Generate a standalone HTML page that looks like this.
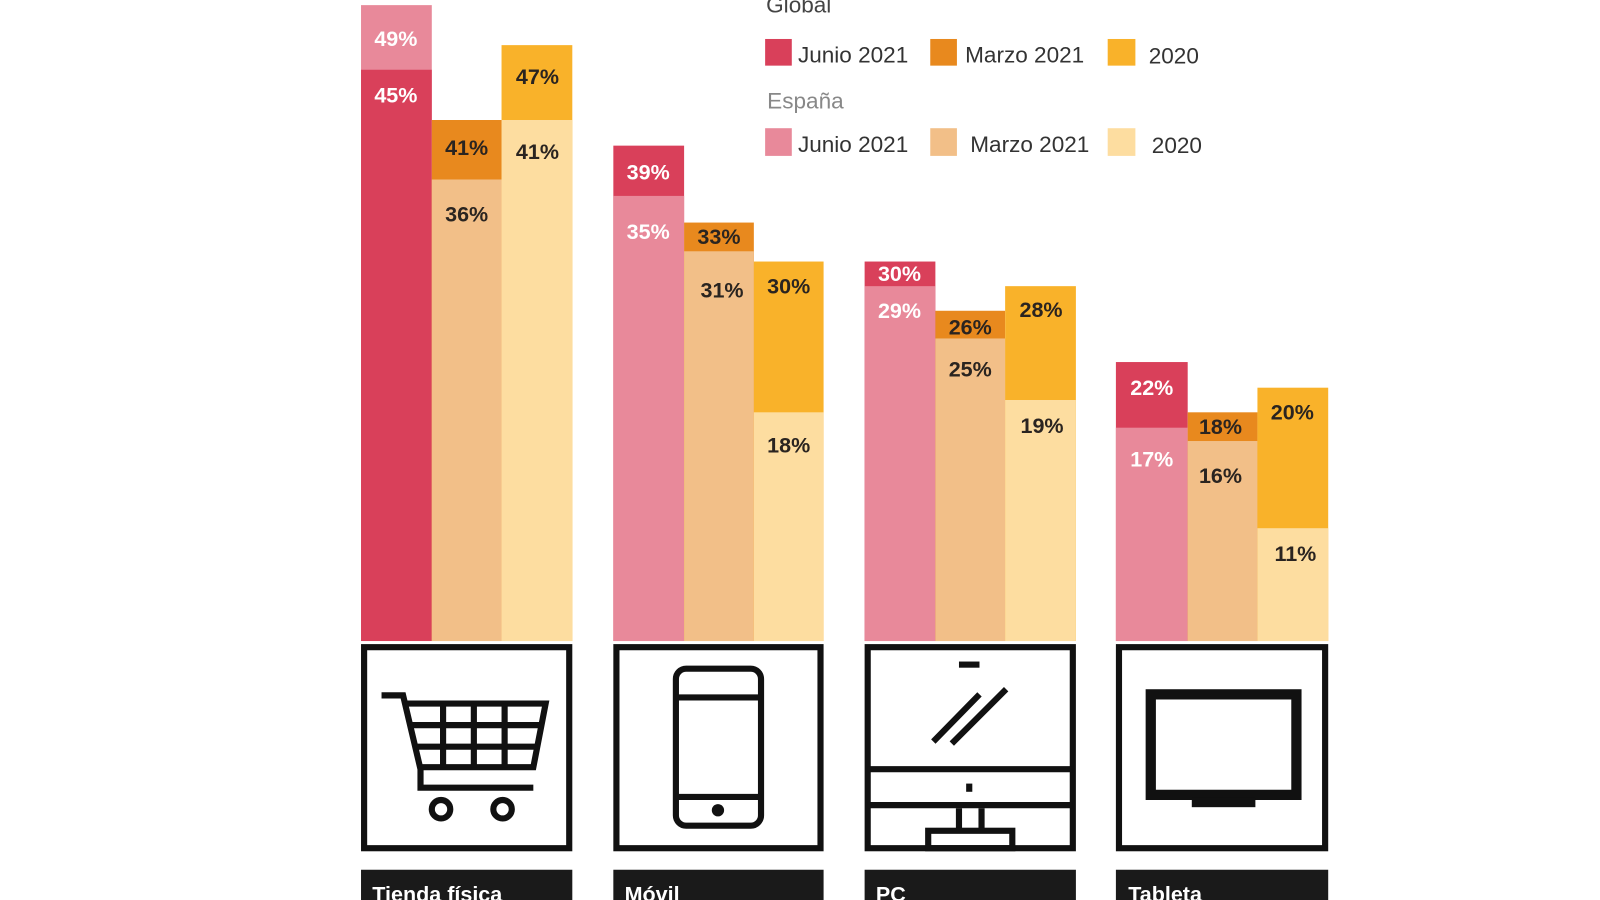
<!DOCTYPE html>
<html><head><meta charset="utf-8"><style>
html,body{margin:0;padding:0;background:#fff;overflow:hidden}
svg{display:block}
text{font-family:"Liberation Sans",sans-serif}
.w{fill:#fff;font-weight:bold;font-size:21px;text-anchor:middle}
.d{fill:#2a2420;font-weight:bold;font-size:21px;text-anchor:middle}
.lg{fill:#333;font-size:22px}
</style></head><body>
<svg width="1600" height="900" viewBox="0 0 1560 877.5" xmlns="http://www.w3.org/2000/svg">
<rect width="1560" height="877.5" fill="#fff"/>
<!-- Group 1 -->
<rect x="352" y="5" width="69" height="620" fill="#e8899a"/>
<rect x="352" y="68" width="69" height="557" fill="#d9405a"/>
<rect x="421" y="117" width="68" height="508" fill="#e8891e"/>
<rect x="421" y="175" width="68" height="450" fill="#f2bf88"/>
<rect x="489" y="44" width="69" height="581" fill="#f9b22a"/>
<rect x="489" y="117" width="69" height="508" fill="#fddda0"/>
<text class="w" x="386" y="45">49%</text><text class="w" x="386" y="100">45%</text>
<text class="d" x="455" y="151">41%</text><text class="d" x="455" y="216">36%</text>
<text class="d" x="524" y="82">47%</text><text class="d" x="524" y="155">41%</text>
<!-- Group 2 -->
<rect x="598" y="142" width="69" height="483" fill="#d9405a"/>
<rect x="598" y="191" width="69" height="434" fill="#e8899a"/>
<rect x="667" y="217" width="68" height="408" fill="#e8891e"/>
<rect x="667" y="245" width="68" height="380" fill="#f2bf88"/>
<rect x="735" y="255" width="68" height="370" fill="#f9b22a"/>
<rect x="735" y="402" width="68" height="223" fill="#fddda0"/>
<text class="w" x="632" y="175">39%</text><text class="w" x="632" y="233">35%</text>
<text class="d" x="701" y="238">33%</text><text class="d" x="704" y="290">31%</text>
<text class="d" x="769" y="286">30%</text><text class="d" x="769" y="441">18%</text>
<!-- Group 3 -->
<rect x="843" y="255" width="69" height="370" fill="#d9405a"/>
<rect x="843" y="279" width="69" height="346" fill="#e8899a"/>
<rect x="912" y="303" width="68" height="322" fill="#e8891e"/>
<rect x="912" y="330" width="68" height="295" fill="#f2bf88"/>
<rect x="980" y="279" width="69" height="346" fill="#f9b22a"/>
<rect x="980" y="390" width="69" height="235" fill="#fddda0"/>
<text class="w" x="877" y="274">30%</text><text class="w" x="877" y="310">29%</text>
<text class="d" x="946" y="326">26%</text><text class="d" x="946" y="367">25%</text>
<text class="d" x="1015" y="309">28%</text><text class="d" x="1016" y="422">19%</text>
<!-- Group 4 -->
<rect x="1088" y="353" width="70" height="272" fill="#d9405a"/>
<rect x="1088" y="417" width="70" height="208" fill="#e8899a"/>
<rect x="1158" y="402" width="68" height="223" fill="#e8891e"/>
<rect x="1158" y="430" width="68" height="195" fill="#f2bf88"/>
<rect x="1226" y="378" width="69" height="247" fill="#f9b22a"/>
<rect x="1226" y="515" width="69" height="110" fill="#fddda0"/>
<text class="w" x="1123" y="385">22%</text><text class="w" x="1123" y="455">17%</text>
<text class="d" x="1190" y="423">18%</text><text class="d" x="1190" y="471">16%</text>
<text class="d" x="1260" y="409">20%</text><text class="d" x="1263" y="547">11%</text>
<!-- Legend -->
<text class="lg" x="747" y="12" fill="#444" style="fill:#444">Global</text>
<rect x="746" y="38" width="26" height="26" fill="#d9405a"/><text class="lg" x="778" y="61">Junio 2021</text>
<rect x="907" y="38" width="26" height="26" fill="#e8891e"/><text class="lg" x="941" y="61">Marzo 2021</text>
<rect x="1080" y="38" width="27" height="26" fill="#f9b22a"/><text class="lg" x="1120" y="62">2020</text>
<text class="lg" x="748" y="106" style="fill:#888">España</text>
<rect x="746" y="125" width="26" height="27" fill="#e8899a"/><text class="lg" x="778" y="148">Junio 2021</text>
<rect x="907" y="125" width="26" height="27" fill="#f2bf88"/><text class="lg" x="946" y="148">Marzo 2021</text>
<rect x="1080" y="125" width="27" height="27" fill="#fddda0"/><text class="lg" x="1123" y="149">2020</text>
<!-- Icon boxes -->
<g fill="none" stroke="#111" stroke-width="6">
<rect x="355" y="631" width="200" height="196"/>
<rect x="601" y="631" width="199" height="196"/>
<rect x="846" y="631" width="200" height="196"/>
<rect x="1091" y="631" width="201" height="196"/>
</g>
<!-- Cart -->
<g fill="none" stroke="#111" stroke-width="6">
<path d="M372 678 H393 L410 750 V768 H520"/>
<path d="M395 686 H532 L520 748 H408"/>
<path d="M400 707 H527 M404 728 H524"/>
<path d="M432 686 V748 M462 686 V748 M492 686 V748"/>
<circle cx="430" cy="789" r="9"/><circle cx="490" cy="789" r="9"/>
</g>
<!-- Phone -->
<g fill="none" stroke="#111" stroke-width="6">
<rect x="659" y="652" width="83" height="153" rx="10"/>
<path d="M659 680 H742 M659 777 H742"/>
</g>
<circle cx="700" cy="790" r="6" fill="#111"/>
<!-- PC -->
<g fill="none" stroke="#111" stroke-width="6">
<path d="M846 750 H1046 M846 785 H1046"/>
<path d="M935 788 V810 M957 788 V810"/>
<rect x="905" y="810" width="82" height="17"/>
<path d="M910 723 L955 677 M928 725 L981 672"/>
</g>
<rect x="935" y="645" width="20" height="6" fill="#111"/>
<rect x="942" y="764" width="6" height="8" fill="#111"/>
<!-- Tablet -->
<rect x="1117" y="672" width="152" height="108" fill="#111"/>
<rect x="1127" y="682" width="132" height="88" fill="#fff"/>
<rect x="1162" y="778" width="62" height="9" fill="#111"/>
<!-- Labels -->
<rect x="352" y="848" width="206" height="40" fill="#1a1a1a"/>
<rect x="598" y="848" width="205" height="40" fill="#1a1a1a"/>
<rect x="843" y="848" width="206" height="40" fill="#1a1a1a"/>
<rect x="1088" y="848" width="207" height="40" fill="#1a1a1a"/>
<g fill="#fff" font-weight="bold" font-size="21">
<text x="363" y="879">Tienda física</text>
<text x="609" y="879">Móvil</text>
<text x="854" y="879">PC</text>
<text x="1100" y="879">Tableta</text>
</g>
</svg>
</body></html>
